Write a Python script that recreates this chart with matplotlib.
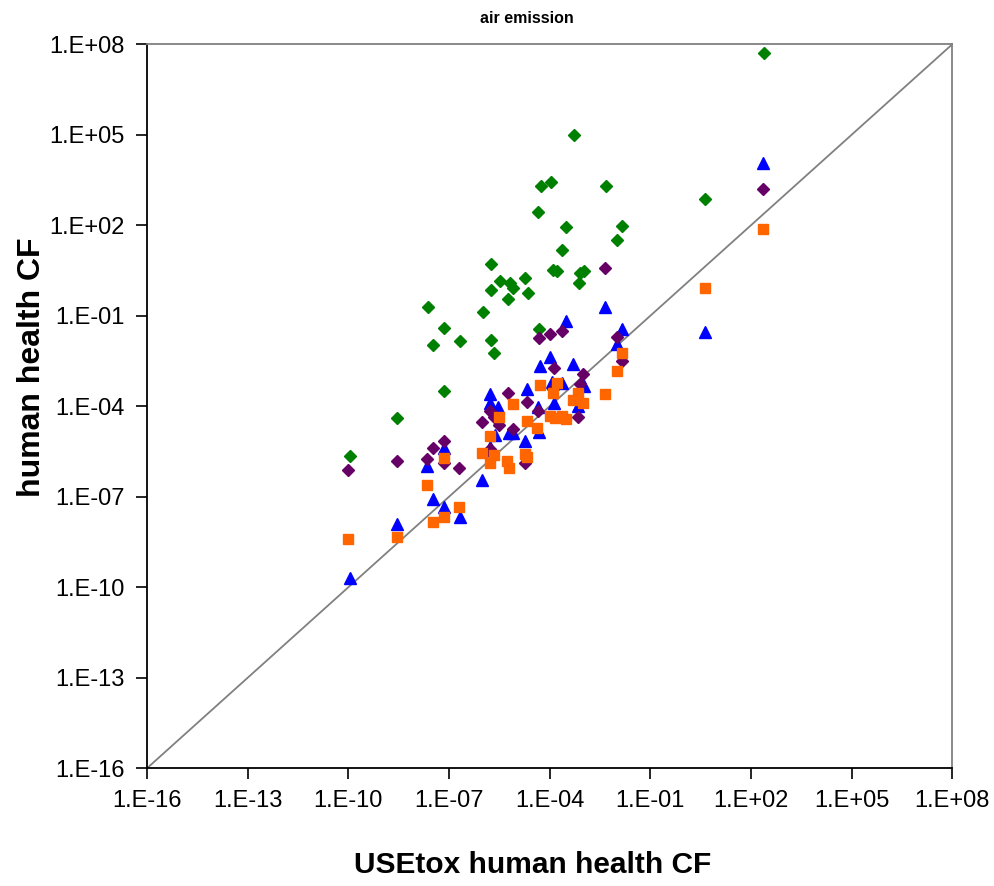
import numpy as np
import matplotlib
matplotlib.use("Agg")
import matplotlib.pyplot as plt
from matplotlib.ticker import FixedLocator, FuncFormatter, NullLocator

plt.rcParams['font.family'] = ['Liberation Sans', 'DejaVu Sans']

# log10 of the characterisation factors: (USEtox, model)
green_x = [-9.95, -8.55, -7.62, -7.47, -7.15, -6.67, -5.98, -5.74, -5.74, -5.74, -5.65, -5.48,
           -5.24, -5.18, -5.09, -4.73, -4.64, -4.34, -4.25, -3.95, -3.89, -3.78, -3.63, -3.51,
           -3.27, -3.12, -3.09, -2.97, -2.32, -1.99, -1.84, 0.64, 2.40, -4.31, -7.15]
green_y = [-5.66, -4.40, -0.72, -1.98, -1.41, -1.84, -0.88, 0.71, -0.15, -1.81, -2.24, 0.14,
           -0.45, 0.08, -0.09, 0.24, -0.25, 2.43, 3.29, 3.43, 0.51, 0.48, 1.17, 1.93,
           4.98, 0.08, 0.41, 0.48, 3.29, 1.50, 1.97, 2.86, 7.70, -1.45, -3.50]

blue_x = [-9.95, -8.55, -7.65, -7.47, -7.15, -7.15, -6.67, -6.01, -5.77, -5.77, -5.53, -5.62,
          -5.77, -5.21, -5.09, -4.73, -4.67, -4.34, -4.31, -4.28, -3.98, -3.92, -3.63, -3.86,
          -3.30, -3.15, -2.97, -3.51, -2.35, -1.99, -1.84, 0.64, 2.37]
blue_y = [-9.70, -7.91, -5.99, -7.08, -5.39, -7.35, -7.68, -6.45, -3.60, -3.90, -4.03, -4.96,
          -5.36, -4.89, -4.89, -5.16, -3.44, -4.03, -4.86, -2.67, -2.37, -3.20, -3.24, -3.90,
          -2.61, -4.00, -3.34, -1.18, -0.72, -1.94, -1.45, -1.55, 4.06]

purple_x = [-10.0, -8.55, -7.65, -7.47, -7.15, -7.15, -6.70, -6.01, -5.77, -5.65, -5.50, -5.24,
            -5.09, -4.67, -4.73, -5.77, -5.74, -4.34, -4.31, -3.98, -3.63, -3.89, -3.86, -3.15,
            -3.09, -3.00, -2.35, -1.99, -1.84, 2.37]
purple_y = [-6.12, -5.82, -5.76, -5.39, -5.16, -5.89, -6.05, -4.53, -4.16, -4.36, -4.63, -3.57,
            -4.76, -3.87, -5.89, -5.42, -5.56, -4.16, -1.74, -1.61, -1.51, -3.44, -2.74, -4.36,
            -3.27, -2.94, 0.58, -1.71, -2.51, 3.19]

orange_x = [-10.0, -8.55, -7.65, -7.47, -7.15, -7.15, -6.70, -6.01, -5.77, -5.77, -5.65, -5.50,
            -5.27, -5.21, -5.09, -4.73, -4.67, -4.67, -4.37, -4.28, -3.98, -3.83, -3.63, -3.51,
            -3.89, -3.78, -3.30, -3.15, -3.00, -2.35, -1.99, -1.84, 0.64, 2.37]
orange_y = [-8.41, -8.34, -6.62, -7.84, -5.72, -7.68, -7.35, -5.56, -4.99, -5.89, -5.62, -4.36,
            -5.82, -6.05, -3.93, -5.59, -5.69, -4.50, -4.73, -3.30, -4.33, -4.40, -4.33, -4.43,
            -3.57, -3.24, -3.80, -3.57, -3.90, -3.60, -2.84, -2.24, -0.09, 1.87]

tick_exps = [-16, -13, -10, -7, -4, -1, 2, 5, 8]

fig = plt.figure(figsize=(9.94, 8.86), dpi=100)
ax = fig.add_axes([0.148, 0.133, 0.81, 0.817])

lim = (1e-16, 1e8)
ax.plot(lim, lim, color='#808080', lw=1.3, zorder=1)

ax.plot(10 ** np.array(green_x), 10 ** np.array(green_y), ls='none', marker='D', ms=6,
        color='#008000', zorder=3)
ax.plot(10 ** np.array(blue_x), 10 ** np.array(blue_y), ls='none', marker='^', ms=8,
        color='#0000FF', zorder=4)
ax.plot(10 ** np.array(purple_x), 10 ** np.array(purple_y), ls='none', marker='D', ms=6,
        color='#660066', zorder=5)
ax.plot(10 ** np.array(orange_x), 10 ** np.array(orange_y), ls='none', marker='s', ms=6.8,
        color='#FF6600', zorder=6)

ax.set_xscale('log')
ax.set_yscale('log')
ax.set_xlim(lim)
ax.set_ylim(lim)

ticks = [10.0 ** e for e in tick_exps]
fmt = FuncFormatter(lambda v, p: "1.E%+03d" % int(round(np.log10(v))))
for axis in (ax.xaxis, ax.yaxis):
    axis.set_major_locator(FixedLocator(ticks))
    axis.set_minor_locator(NullLocator())
    axis.set_major_formatter(fmt)

ax.tick_params(axis='both', which='major', direction='out', length=8, width=1.2,
               labelsize=17, pad=8)

for s in ('left', 'bottom'):
    ax.spines[s].set_color('black')
    ax.spines[s].set_linewidth(1.3)
for s in ('top', 'right'):
    ax.spines[s].set_color('#808080')
    ax.spines[s].set_linewidth(1.3)

fig.text(0.530, 0.979, "air emission", fontsize=11.5, fontweight='bold', ha='center', va='center')
fig.text(0.536, 0.024, "USEtox human health CF", fontsize=21.5, fontweight='bold',
         ha='center', va='center')
fig.text(0.032, 0.585, "human health CF", fontsize=23, fontweight='bold',
         ha='center', va='center', rotation=90)

fig.savefig("out.png", dpi=100)
